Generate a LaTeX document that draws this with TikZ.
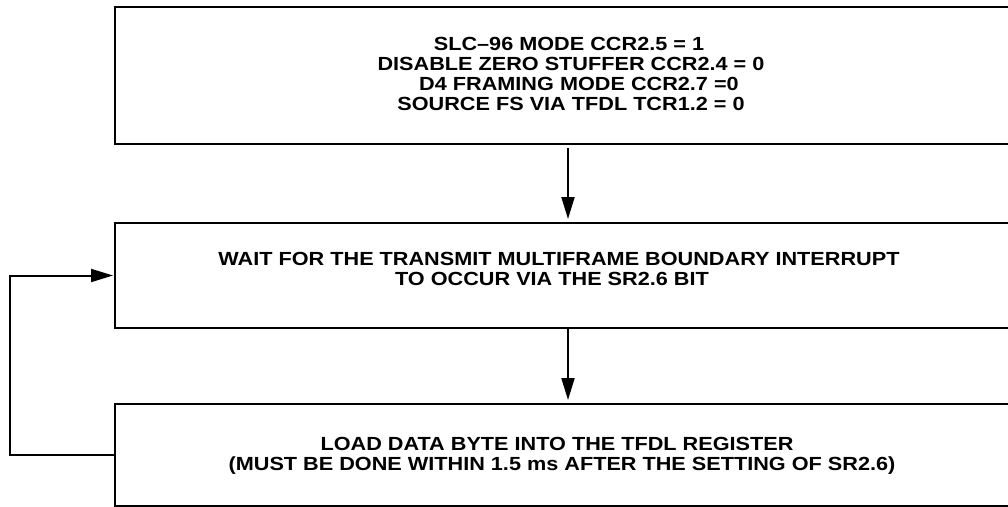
\documentclass[tikz,border=0pt]{standalone}
\usepackage{fontspec}
\setmainfont[FakeStretch=1.14]{Liberation Sans}
\usetikzlibrary{arrows.meta}
\begin{document}
\begin{tikzpicture}[x=1pt,y=-1pt,
  box/.style={draw, line width=2pt, rectangle, inner sep=0pt, anchor=north west},
  txt/.style={anchor=base, inner sep=0pt, font=\fontsize{19}{21}\selectfont\bfseries},
  arr/.style={line width=2pt, -{Triangle[length=22pt,width=13pt]}}]
\useasboundingbox (0,0) rectangle (1008,506);
\begin{scope}
\clip (0,0) rectangle (1008,506);
\node[box, minimum width=906pt, minimum height=137pt] (b1) at (114,6) {};
\node[box, minimum width=906pt, minimum height=105pt] (b2) at (114,222) {};
\node[box, minimum width=906pt, minimum height=102pt] (b3) at (114,403) {};
\end{scope}
\node[txt] (t1) at (569,50) {SLC–96 MODE CCR2.5 = 1};
\node[txt] (t2) at (571,70) {DISABLE ZERO STUFFER CCR2.4 = 0};
\node[txt] (t3) at (579,90) {D4 FRAMING MODE CCR2.7 =0};
\node[txt] (t4) at (571,110) {SOURCE FS VIA TFDL TCR1.2 = 0};
\node[txt] (t5) at (559,265) {WAIT FOR THE TRANSMIT MULTIFRAME BOUNDARY INTERRUPT};
\node[txt] (t6) at (552,285) {TO OCCUR VIA THE SR2.6 BIT};
\node[txt] (t7) at (557,450) {LOAD DATA BYTE INTO THE TFDL REGISTER};
\node[txt] (t8) at (562,470) {(MUST BE DONE WITHIN 1.5 ms AFTER THE SETTING OF SR2.6)};
\draw[arr, shorten >=3pt] ([yshift=-3pt]b1.south) -- (b2.north);
\draw[arr, shorten >=3pt] (b2.south) -- (b3.north);
\draw[arr, shorten >=1pt] (b3.west) -- ++(-104.5,0) |- (b2.west);
\end{tikzpicture}
\end{document}
